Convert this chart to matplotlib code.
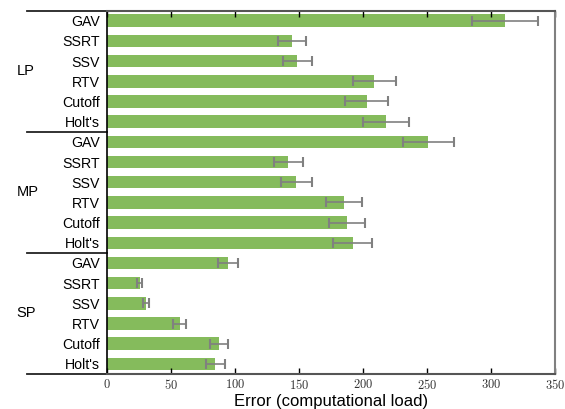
import matplotlib
matplotlib.use("Agg")
import matplotlib.pyplot as plt
from matplotlib.lines import Line2D
import numpy as np

plt.rcParams['font.family'] = ['Liberation Sans', 'DejaVu Sans']
plt.rcParams['mathtext.fontset'] = 'cm'

groups = ['LP', 'MP', 'SP']
methods = ['GAV', 'SSRT', 'SSV', 'RTV', 'Cutoff', "Holt's"]

# mean error and spread per group, same order as methods
lp_err = [311, 145, 149, 209, 203, 218]
lp_std = [26, 11, 11, 17, 17, 18]
mp_err = [251, 142, 148, 185, 188, 192]
mp_std = [20, 11, 12, 14, 14, 15]
sp_err = [95, 26, 31, 57, 88, 85]
sp_std = [8, 2, 2.4, 5, 7, 7.5]

xticks = [0, 50, 100, 150, 200, 250, 300, 350]

values = np.array(lp_err + mp_err + sp_err)
spread = np.array(lp_std + mp_std + sp_std)
labels = methods * 3
pos = np.arange(len(values))

fig = plt.figure(figsize=(5.65, 4.09), dpi=100)
ax = fig.add_axes([0.1885, 0.0856, 0.7938, 0.8884])

ax.barh(pos, values, height=0.62, color='#85bb5c',
        xerr=spread, error_kw=dict(ecolor='#808080', elinewidth=1.2, capsize=3.5, capthick=1.5))

ax.set_ylim(len(values) - 0.5, -0.5)
ax.set_xlim(0, 350)
ax.set_yticks(pos)
ax.set_yticklabels(labels, fontsize=10.2)
ax.tick_params(axis='y', length=0, pad=5)
ax.set_xticks(xticks)
ax.set_xticklabels([r'$%d$' % t for t in xticks], fontsize=9, color='#333333')
ax.tick_params(axis='x', direction='in', length=4, width=1, top=True, color='black', pad=3)
ax.set_xlabel('Error (computational load)', fontsize=12, labelpad=1)

for side in ['top', 'bottom']:
    ax.spines[side].set_color('#555555')
    ax.spines[side].set_linewidth(1.5)
ax.spines['right'].set_color('#808080')
ax.spines['right'].set_linewidth(1.5)
ax.spines['left'].set_color('black')
ax.spines['left'].set_linewidth(1.2)

# group separators and group names on the left
n = len(methods)
tr = ax.get_yaxis_transform()
for k in range(len(groups) + 1):
    yb = k * n - 0.5
    ax.add_line(Line2D([-0.178, 0], [yb, yb], transform=tr, color='#222222',
                       lw=1.3, clip_on=False))
for k, g in enumerate(groups):
    ax.text(-0.2, k * n + (n - 1) / 2, g, transform=tr, fontsize=10.5,
            ha='left', va='center')

fig.savefig('out.png', dpi=100)
